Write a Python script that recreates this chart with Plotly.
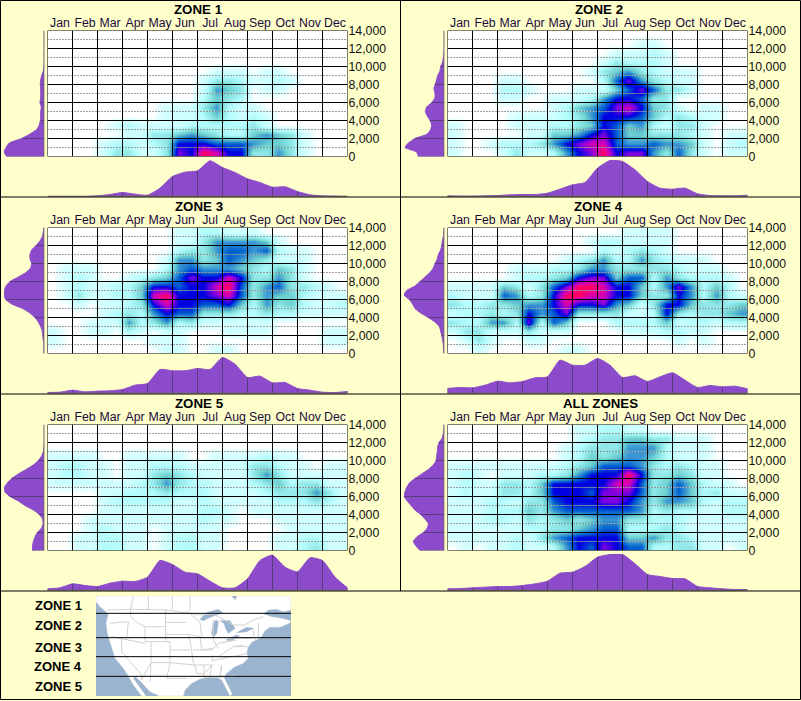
import plotly.graph_objects as go

W, H = 801, 701
TITLES = ["ZONE 1", "ZONE 2", "ZONE 3", "ZONE 4", "ZONE 5", "ALL ZONES"]
TITLE_X = [198, 599, 199, 598, 199, 600]
MONTHS = ["Jan", "Feb", "Mar", "Apr", "May", "Jun", "Jul", "Aug", "Sep", "Oct", "Nov", "Dec"]
ALT_TICKS = [0, 2000, 4000, 6000, 8000, 10000, 12000, 14000]
ZONE_LABELS = ["ZONE 1", "ZONE 2", "ZONE 3", "ZONE 4", "ZONE 5"]
ZONE_LABEL_Y = [605, 625, 647, 666, 686]

# heat levels: rows from 14,000 down to 0 (1,000 ft each), 24 half-month columns
Z1 = ["000000000000000000000000", "000000000000000000000000", "000000000000000000000000", "000000000000000000000000",
      "000000000000011101100000", "000000000000133211210000", "000000000000154301100000", "000000000000243200000000",
      "000000000111352110000000", "000000000111242121000000", "000001211112222231000000", "000000113345432245431000",
      "000012212377766654431000", "000013311387a97733531000"]
Z2 = ["000000000000000000000000", "000000000000000110000000", "000000000000011121000000", "000000000000132221000000",
      "000000000001345321110000", "000011000000268532110000", "000022100011146863310000", "000011001112577633000000",
      "000000001245689743101100", "000001111235777642321100", "100001112234764521331000", "100000114457864433321011",
      "100122235789965565541012", "100013112578a78853631011"]
Z3 = ["000000000011221110000000", "000000000011355554100000", "000000000023356656211000", "000000000155346543111000",
      "011100000256555432431000", "012100123468779733531000", "01211224776779a635633210", "013112249a77789635442111",
      "001011237977667425342112", "000012325766333223221111", "000111523523111111000000", "100110210110001111000011",
      "100000001110000000000011", "000000000110011000000000"]
Z4 = ["000000000000001111000000", "000000000001221111000000", "000000000000212321000000", "000000000123522532111000",
      "000001112235533333211100", "000001223478846625322210", "1111431368aa977425852420", "211165237aa9977433752521",
      "322334557977854137743334", "122323756833331127323345", "322552826400022224122122", "133111311100001112211000",
      "013100110000000000101000", "001000000110000000000000"]
Z5 = ["000000000000000000000000", "000000000000000000000000", "000000000000000000000000", "111100111110011112110000",
      "122110112221111133211011", "122110113432111135311111", "111111123532211123423311", "000011222322211112333531",
      "000012222211211111222321", "000011111111221011111111", "000111111111211000111111", "000121110111110000011111",
      "001122110122110000112211", "001122110122110000112311"]
Z6 = ["000000000011221100000000", "000000000012334433111000", "000000000123335552111000", "000000000124345542111000",
      "111111111234666532321100", "12101112235777a733431100", "121133247777799634642110", "121133247776888634642311",
      "111221336777887535542122", "111222435666666523221122", "111221323434553322211111", "111111223345662223211111",
      "111112135677774453321111", "010112112576876622331101"]
HEAT = [Z1, Z2, Z3, Z4, Z5, Z6]

# monthly density, one value per half month
B1 = [0, 0, 0, 0, 2, 6, 12, 7, 4, 25, 60, 73, 77, 107, 87, 72, 53, 42, 28, 29, 15, 5, 2, 1, 0]
B2 = [2, 1, 1, 2, 3, 5, 6, 6, 10, 22, 35, 42, 85, 108, 105, 80, 45, 25, 22, 25, 8, 3, 2, 2, 4]
B3 = [3, 4, 10, 5, 7, 8, 12, 25, 30, 72, 68, 68, 75, 72, 108, 88, 48, 52, 32, 33, 15, 10, 4, 3, 6]
B4 = [15, 18, 17, 25, 37, 32, 36, 47, 50, 100, 85, 85, 105, 85, 48, 53, 36, 50, 62, 40, 18, 24, 20, 22, 14]
B5 = [5, 8, 20, 15, 12, 22, 28, 27, 40, 90, 78, 55, 50, 28, 8, 8, 35, 90, 106, 70, 56, 98, 90, 40, 8]
B6 = [5, 6, 8, 10, 12, 12, 15, 20, 28, 52, 55, 72, 100, 108, 108, 80, 48, 42, 36, 35, 12, 8, 5, 3, 3]
BOTTOM = [B1, B2, B3, B4, B5, B6]

# altitude density, one value per 500 ft from 0 to 14,000
L1 = [113, 121, 115, 105, 68, 43, 23, 15, 12, 11, 11, 9, 13, 11, 11, 11, 12, 11, 8, 3, 1, 0, 0, 0, 0, 0, 0, 0, 0]
L2 = [78, 83, 118, 108, 88, 51, 41, 38, 43, 51, 57, 53, 38, 28, 28, 31, 28, 23, 20, 13, 11, 5, 3, 1, 0, 0, 0, 0, 0]
L3 = [1, 1, 1, 3, 5, 6, 11, 18, 28, 43, 65, 98, 116, 121, 120, 115, 103, 78, 55, 41, 38, 43, 43, 38, 25, 13, 6, 3, 1]
L4 = [1, 2, 3, 5, 8, 11, 15, 28, 48, 71, 88, 95, 105, 121, 113, 88, 73, 58, 43, 33, 28, 21, 18, 11, 8, 6, 3, 1, 1]
L5 = [36, 35, 33, 28, 21, 8, 4, 5, 15, 33, 58, 78, 103, 118, 120, 111, 98, 78, 55, 33, 18, 8, 3, 1, 0, 0, 0, 0, 0]
L6 = [73, 85, 93, 83, 63, 51, 48, 58, 71, 88, 100, 111, 121, 118, 113, 105, 88, 68, 48, 33, 25, 23, 21, 20, 16, 6, 3, 1, 1]
LEFT = [L1, L2, L3, L4, L5, L6]

COLOR_STOPS = [[0, "#FFFFFF"], [0.02, "#EEFFFF"], [0.06, "#DCFFFF"], [0.1, "#CFFFFF"], [0.2, "#B4FCFC"],
               [0.3, "#92E8E8"], [0.4, "#6CCFCF"], [0.5, "#3A96D2"], [0.6, "#0060D0"], [0.7, "#0000E0"],
               [0.8, "#8000E0"], [0.9, "#D800B0"], [1, "#FF0060"]]

# inset map outlines, in the map picture's own coordinates
LAND_X = [288, 695, 705, 712, 873, 873, 850, 830, 805, 790, 815, 845, 873, 868, 840, 810, 795, 785, 770, 757, 745, 740, 745, 730, 705, 680, 672, 685, 697, 690, 680, 665, 650, 625, 600, 575, 555, 550, 478, 450, 425, 405, 400, 420, 438, 425, 400, 385, 370, 345, 335, 322, 318, 325, 300, 288]
LAND_Y = [18, 18, 30, 18, 18, 60, 65, 58, 60, 72, 80, 85, 92, 100, 112, 112, 122, 140, 150, 155, 170, 190, 205, 220, 230, 250, 262, 290, 312, 318, 300, 270, 262, 262, 267, 280, 300, 318, 318, 305, 278, 258, 265, 295, 318, 318, 285, 258, 235, 205, 170, 130, 100, 72, 50, 35]
LAKES = [
    ([600, 620, 655, 668, 650, 630, 610], [88, 68, 58, 68, 75, 82, 92]),
    ([640, 648, 655, 650, 640, 635], [100, 90, 95, 130, 142, 130]),
    ([660, 690, 705, 685, 678, 672], [92, 92, 115, 130, 118, 100]),
    ([678, 710, 718, 695], [150, 135, 138, 152]),
    ([710, 740, 760, 740], [128, 112, 115, 125]),
]
BORDERS = [
    ([320, 400, 500, 600, 640], [60, 58, 60, 75, 72]), ([400, 392], [18, 58]), ([445, 445], [18, 58]),
    ([517, 517], [18, 60]), ([570, 570], [18, 62]), ([640, 700, 735, 760, 790], [72, 105, 105, 90, 80]),
    ([330, 385], [100, 95]), ([385, 380], [95, 145]), ([335, 380, 435], [140, 148, 160]),
    ([392, 392, 415, 435], [58, 80, 100, 110]), ([435, 497], [110, 110]), ([435, 435, 510], [110, 155, 155]),
    ([497, 497], [60, 155]), ([497, 560], [97, 97]), ([497, 565], [133, 133]), ([560, 600, 605], [62, 97, 140]),
    ([565, 600], [133, 140]), ([510, 510], [155, 218]), ([453, 453], [155, 218]), ([365, 365, 425, 425], [145, 185, 255, 270]),
    ([425, 453, 510, 500, 560], [270, 218, 218, 265, 265]), ([453, 450], [218, 275]), ([510, 570], [180, 180]),
    ([565, 572, 580], [133, 160, 218]), ([510, 585, 590, 612], [218, 225, 250, 252]), ([580, 640], [180, 180]),
    ([600, 605, 640, 655], [140, 180, 175, 160]), ([640, 640, 655], [90, 150, 175]), ([655, 690, 710], [160, 155, 150]),
    ([580, 585, 635], [218, 225, 225]), ([612, 635, 640], [252, 225, 225]), ([612, 612, 625], [225, 262, 262]),
    ([640, 635, 745], [195, 212, 190]), ([635, 630, 660, 665], [225, 262, 262, 225]), ([665, 660, 710], [225, 262, 255]),
    ([690, 690, 755], [155, 145, 145]), ([655, 700, 730], [200, 170, 165]), ([700, 745], [170, 170]),
    ([760, 762, 770], [115, 145, 150]), ([775, 775], [100, 145]),
]
ZONE_LINES_Y = [70, 143, 200, 259]

BG = "#FFFFCC"
PURPLE = "#8C4BCA"
PURPLE_GRID = "#5C3A7E"
AXIS_GRAY = "#6E6E55"


def hx(px):
    return px / W


def vy(py):
    return 1 - py / H


fig = go.Figure()
layout = {}
shapes = []
annotations = []
n = 0


def new_axes(xdom, ydom, xrange_, yrange_):
    global n
    n += 1
    layout[f"xaxis{n}"] = dict(domain=[hx(xdom[0]), hx(xdom[1])], range=xrange_, anchor=f"y{n}", visible=False,
                               showgrid=False, zeroline=False, fixedrange=True)
    layout[f"yaxis{n}"] = dict(domain=[vy(ydom[1]), vy(ydom[0])], range=yrange_, anchor=f"x{n}", visible=False,
                               showgrid=False, zeroline=False, fixedrange=True)
    return f"x{n}", f"y{n}", n


def lines(xa, ya, xs, ys, color, width, dash=None):
    fig.add_trace(go.Scatter(x=xs, y=ys, xaxis=xa, yaxis=ya, mode="lines", hoverinfo="skip", showlegend=False,
                             line=dict(color=color, width=width, dash=dash)))


month_edges = list(range(13))

for p in range(6):
    ox = 400 * (p % 2)
    oy = 197 * (p // 2)
    top, bottom, left, right = 30.5 + oy, 156.5 + oy, 47.5 + ox, 347.5 + ox

    # main heat panel
    xa, ya, k = new_axes((left, right), (top, bottom), [0, 12], [0, 14000])
    rows = HEAT[p][::-1]
    z = [[int(c, 16) for c in row] for row in rows]
    fig.add_trace(go.Heatmap(z=z, x=[(i + 0.5) / 2 for i in range(24)], y=[500 + 1000 * r for r in range(14)],
                             xaxis=xa, yaxis=ya, colorscale=COLOR_STOPS, zmin=0, zmax=10, showscale=False,
                             zsmooth="best", hoverinfo="skip"))
    layout[f"xaxis{k}"].update(visible=True, side="top", tickvals=[m + 0.5 for m in range(12)], ticktext=MONTHS,
                               ticks="", showline=False, tickfont=dict(family="Liberation Sans", size=12.3, color="#1A0A3A"))
    layout[f"yaxis{k}"].update(visible=True, side="right", tickvals=ALT_TICKS, tickformat=",d", ticks="",
                               showline=False, tickfont=dict(family="Liberation Sans", size=12.3, color="#101010"))
    odd = [a for a in range(1000, 14000, 2000)]
    dx, dy = [], []
    for a in odd:
        dx += [0, 12, None]
        dy += [a, a, None]
    lines(xa, ya, dx, dy, "#FFFFFF", 1, "1px,1px")
    lines(xa, ya, dx, dy, "#404040", 1, "1px,2px")
    gx, gy = [], []
    for m in month_edges:
        gx += [m, m, None]
        gy += [0, 14000, None]
    for a in ALT_TICKS:
        gx += [0, 12, None]
        gy += [a, a, None]
    lines(xa, ya, gx, gy, "#000000", 1)

    # left density
    xa, ya, _ = new_axes((4 + ox, 44.3 + ox), (top, bottom), [121, 0], [0, 14000])
    alts = [500 * i for i in range(29)]
    fig.add_trace(go.Scatter(x=LEFT[p], y=alts, xaxis=xa, yaxis=ya, mode="lines", fill="tozerox", fillcolor=PURPLE,
                             line=dict(color=PURPLE, width=1, shape="spline", smoothing=0.5), hoverinfo="skip", showlegend=False))
    gx, gy = [], []
    for a in ALT_TICKS:
        gx += [0, LEFT[p][a // 500], None]
        gy += [a, a, None]
    lines(xa, ya, gx, gy, PURPLE_GRID, 1)
    lines(xa, ya, [0, 0], [0, 14000], AXIS_GRAY, 1.5)

    # bottom density
    xa, ya, _ = new_axes((left, right), (159.8 + oy, 196.5 + oy), [0, 12], [0, 110])
    times = [i / 2 for i in range(25)]
    fig.add_trace(go.Scatter(x=times, y=BOTTOM[p], xaxis=xa, yaxis=ya, mode="lines", fill="tozeroy", fillcolor=PURPLE,
                             line=dict(color=PURPLE, width=1, shape="spline", smoothing=0.5), hoverinfo="skip", showlegend=False))
    gx, gy = [], []
    for m in month_edges:
        gx += [m, m, None]
        gy += [0, BOTTOM[p][m * 2], None]
    lines(xa, ya, gx, gy, PURPLE_GRID, 1)
    lines(xa, ya, [0, 12], [0, 0], AXIS_GRAY, 1.5)

    annotations.append(dict(text=f"<b>{TITLES[p]}</b>", xref="paper", yref="paper", x=hx(TITLE_X[p]), y=vy(9 + oy),
                            xanchor="center", yanchor="middle", showarrow=False,
                            font=dict(family="Liberation Sans", size=13.3, color="#000000")))

# inset map
shapes.append(dict(type="rect", xref="paper", yref="paper", x0=hx(96), x1=hx(291), y0=vy(696), y1=vy(596),
                   fillcolor="#9AB3CE", line=dict(width=0), layer="below"))
xa, ya, _ = new_axes((96, 291), (596, 696), [288, 873], [318, 18])
fig.add_trace(go.Scatter(x=LAND_X + LAND_X[:1], y=LAND_Y + LAND_Y[:1], xaxis=xa, yaxis=ya, mode="lines", fill="toself",
                         fillcolor="#FFFFFF", line=dict(color="#C8D2DC", width=0.5), hoverinfo="skip", showlegend=False))
for lx, ly in LAKES:
    fig.add_trace(go.Scatter(x=lx + lx[:1], y=ly + ly[:1], xaxis=xa, yaxis=ya, mode="lines", fill="toself",
                             fillcolor="#9AB3CE", line=dict(color="#9AB3CE", width=0.5), hoverinfo="skip", showlegend=False))
bx, by = [], []
for lx, ly in BORDERS:
    bx += lx + [None]
    by += ly + [None]
lines(xa, ya, bx, by, "#D2D2D2", 1)
zx, zy = [], []
for v in ZONE_LINES_Y:
    zx += [288, 873, None]
    zy += [v, v, None]
lines(xa, ya, zx, zy, "#000000", 1)

for lab, y in zip(ZONE_LABELS, ZONE_LABEL_Y):
    annotations.append(dict(text=f"<b>{lab}</b>", xref="paper", yref="paper", x=hx(83.5), y=vy(y), xanchor="right",
                            yanchor="middle", showarrow=False, font=dict(family="Liberation Sans", size=13, color="#000000")))

# panel frame
frame = [(400.5, 0, 400.5, 591), (0, 197, 800, 197), (0, 394, 800, 394), (0, 591, 800, 591)]
for x0, y0, x1, y1 in frame:
    shapes.append(dict(type="line", xref="paper", yref="paper", x0=hx(x0), x1=hx(x1), y0=vy(y0), y1=vy(y1),
                       line=dict(color="#000000", width=1)))
shapes.append(dict(type="rect", xref="paper", yref="paper", x0=hx(0.5), x1=hx(800.5), y0=vy(699.5), y1=vy(0.5),
                   line=dict(color="#000000", width=1)))

fig.update_layout(width=W, height=H, margin=dict(l=0, r=0, t=0, b=0, pad=0, autoexpand=False), paper_bgcolor=BG,
                  plot_bgcolor="rgba(0,0,0,0)", showlegend=False, shapes=shapes, annotations=annotations, **layout)
fig.write_html("out.html", config={"displayModeBar": False},
               post_script="document.body.style.margin='0';document.body.style.overflow='hidden';")
